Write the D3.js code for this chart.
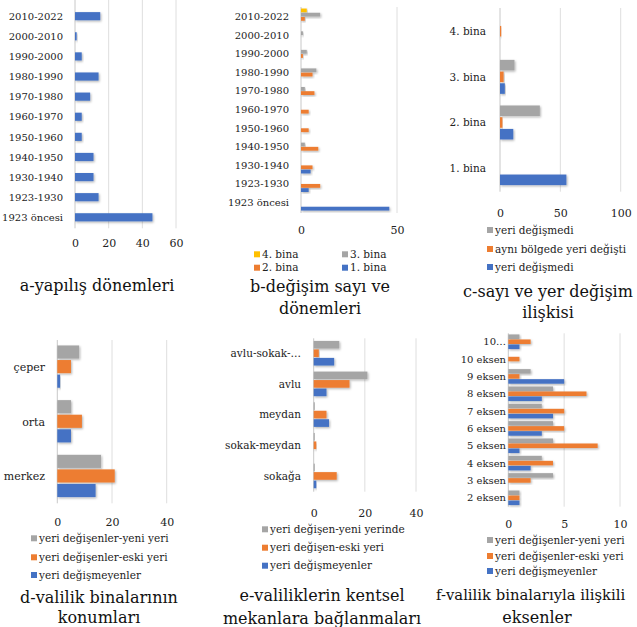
<!DOCTYPE html>
<html>
<head>
<meta charset="utf-8">
<script src="https://cdn.jsdelivr.net/npm/d3@7"></script>
<style>
  body { margin: 0; background: #fff; }
  svg { display: block; }
  svg text { font-family: 'DejaVu Serif', serif !important; }
</style>
</head>
<body>
<script>
// ---- data ----
const aCats = ['2010-2022', '2000-2010', '1990-2000', '1980-1990', '1970-1980', '1960-1970',
               '1950-1960', '1940-1950', '1930-1940', '1923-1930', '1923 öncesi']
const aValues = [15, 1, 4, 14, 9, 4, 4, 11, 11, 14, 46]

// b: same periods, one series per building
const bBina1 = [0, 0, 0, 0, 0, 0, 0, 0, 5, 4, 46]
const bBina2 = [2, 0, 1, 6, 7, 4, 4, 9, 6, 10, 0]
const bBina3 = [10, 1, 3, 8, 2, 0, 0, 2, 0, 0, 0]
const bBina4 = [3, 0, 0, 0, 0, 0, 0, 0, 0, 0, 0]
const bNames = ['4. bina', '3. bina', '2. bina', '1. bina']

const cCats = ['4. bina', '3. bina', '2. bina', '1. bina']
const cGray = [0, 12, 33, 0]
const cOrange = [1, 3, 2, 0]
const cBlue = [0, 4, 11, 55]
const cNames = ['yeri değişmedi', 'aynı bölgede yeri değişti', 'yeri değişmedi']

const dCats = ['çeper', 'orta', 'merkez']
const dGray = [8, 5, 16]
const dOrange = [5, 9, 21]
const dBlue = [1, 5, 14]
const dNames = ['yeri değişenler-yeni yeri', 'yeri değişenler-eski yeri', 'yeri değişmeyenler']

const eCats = ['avlu-sokak-…', 'avlu', 'meydan', 'sokak-meydan', 'sokağa']
const eGray = [10, 21, 0.4, 0.4, 0.4]
const eOrange = [2, 14, 5, 1, 9]
const eBlue = [8, 5, 6, 0, 1]
const eNames = ['yeri değişen-yeni yerinde', 'yeri değişen-eski yeri', 'yeri değişmeyenler']

const fCats = ['10…', '10 eksen', '9 eksen', '8 eksen', '7 eksen', '6 eksen',
               '5 eksen', '4 eksen', '3 eksen', '2 eksen']
const fGray = [1, 0, 2, 4, 3, 4, 4, 3, 4, 1]
const fOrange = [2, 1, 1, 7, 5, 5, 8, 4, 2, 1]
const fBlue = [1, 0, 5, 3, 4, 3, 1, 2, 0, 1]
const fNames = ['yeri değişenler-yeni yeri', 'yeri değişenler-eski yeri', 'yeri değişmeyenler']

// ---- drawing ----
const BLUE = '#4472c4', ORANGE = '#ed7d31', GRAY = '#a5a5a5', YELLOW = '#ffc000'

const svg = d3.select('body').append('svg')
  .attr('width', 637).attr('height', 627)

svg.append('defs').append('filter').attr('id', 'sh')
  .attr('x', '-10%').attr('y', '-30%').attr('width', '130%').attr('height', '180%')
  .append('feDropShadow')
  .attr('dx', 1).attr('dy', 1.2).attr('stdDeviation', 0.9)
  .attr('flood-color', '#000').attr('flood-opacity', 0.3)

function panel(p) {
  const g = svg.append('g')
  const x = d3.scaleLinear().domain([0, p.max]).range([p.x0, p.x1])
  const y = d3.scaleBand().domain(p.cats).range([p.y0, p.y1])
    .paddingInner(p.pad).paddingOuter(p.pad / 2)
  const sub = d3.scaleBand().domain(d3.range(p.series.length)).range([0, y.bandwidth()])

  // gridlines
  g.selectAll('line.grid').data(p.ticks).join('line')
    .attr('x1', x).attr('x2', x)
    .attr('y1', p.gTop).attr('y2', p.gBot)
    .attr('stroke', d => d === 0 ? '#c8c8c8' : '#dedede')
    .attr('stroke-width', 1)

  // bars
  p.series.forEach((s, i) => {
    g.append('g').selectAll('rect').data(s.values).join('rect')
      .attr('x', x(0))
      .attr('y', (d, j) => y(p.cats[j]) + sub(i))
      .attr('width', d => x(d) - x(0))
      .attr('height', sub.bandwidth() * 0.9)
      .attr('fill', s.color)
      .attr('filter', 'url(#sh)')
  })

  // category labels
  g.append('g').attr('transform', `translate(${p.labelX},0)`)
    .call(d3.axisLeft(y).tickSize(0).tickPadding(0))
    .call(a => a.select('.domain').remove())
    .selectAll('text').attr('font-size', p.fs).attr('fill', '#222')

  // value axis labels
  g.append('g').attr('transform', `translate(0,${p.tickY})`)
    .call(d3.axisBottom(x).tickValues(p.ticks).tickSize(0).tickPadding(0))
    .call(a => a.select('.domain').remove())
    .selectAll('text').attr('font-size', 11).attr('dy', '0.35em').attr('fill', '#222')

  // legend
  if (p.legend) {
    p.legend.forEach(l => {
      g.append('rect').attr('x', l.x).attr('y', l.y - 3).attr('width', 6).attr('height', 6)
        .attr('fill', l.color)
      g.append('text').attr('x', l.x + 8).attr('y', l.y).attr('dy', '0.35em')
        .attr('font-size', 10.5).attr('fill', '#222').text(l.text)
    })
  }

  // title
  p.title.forEach((t, i) => {
    const start = p.titleStart && p.titleStart[i] != null
    g.append('text')
      .attr('x', start ? p.titleStart[i] : p.titleX)
      .attr('y', p.titleY[i]).attr('dy', '0.35em')
      .attr('text-anchor', start ? 'start' : 'middle')
      .attr('font-size', p.titleSize ? p.titleSize[i] : 16)
      .attr('fill', '#111').text(t)
  })
}

panel({
  cats: aCats, series: [{ values: aValues, color: BLUE }],
  max: 60, ticks: [0, 20, 40, 60], x0: 75, x1: 176,
  y0: 6.6, y1: 227.8, pad: 0.55, gTop: 0, gBot: 228.3,
  labelX: 63, fs: 10, tickY: 243,
  title: ['a-yapılış dönemleri'], titleX: 97, titleY: [285]
})

panel({
  cats: aCats,
  series: [{ values: bBina4, color: YELLOW }, { values: bBina3, color: GRAY },
           { values: bBina2, color: ORANGE }, { values: bBina1, color: BLUE }],
  max: 50, ticks: [0, 50], x0: 301, x1: 397,
  y0: 7.7, y1: 211.8, pad: 0.09, gTop: 7, gBot: 213,
  labelX: 289, fs: 10, tickY: 230,
  legend: [
    { x: 254, y: 254.3, color: YELLOW, text: bNames[0] },
    { x: 342, y: 254.3, color: GRAY, text: bNames[1] },
    { x: 254, y: 267.7, color: ORANGE, text: bNames[2] },
    { x: 342, y: 267.7, color: BLUE, text: bNames[3] }
  ],
  title: ['b-değişim sayı ve', 'dönemleri'], titleX: 320, titleY: [286, 308]
})

panel({
  cats: cCats,
  series: [{ values: cGray, color: GRAY }, { values: cOrange, color: ORANGE }, { values: cBlue, color: BLUE }],
  max: 100, ticks: [0, 50, 100], x0: 500, x1: 620.7,
  y0: 9, y1: 191.5, pad: 0.23, gTop: 8, gBot: 191.7,
  labelX: 486, fs: 10.5, tickY: 213,
  legend: [
    { x: 487, y: 230, color: GRAY, text: cNames[0] },
    { x: 487, y: 249, color: ORANGE, text: cNames[1] },
    { x: 487, y: 267, color: BLUE, text: cNames[2] }
  ],
  title: ['c-sayı ve yer değişim', 'ilişkisi'], titleX: 548, titleY: [291, 312]
})

panel({
  cats: dCats,
  series: [{ values: dGray, color: GRAY }, { values: dOrange, color: ORANGE }, { values: dBlue, color: BLUE }],
  max: 40, ticks: [0, 20, 40], x0: 57.3, x1: 166.7,
  y0: 340, y1: 504, pad: 0.2, gTop: 340, gBot: 503.3,
  labelX: 45, fs: 11, tickY: 521.7,
  legend: [
    { x: 31, y: 538.3, color: GRAY, text: dNames[0] },
    { x: 31, y: 557.3, color: ORANGE, text: dNames[1] },
    { x: 31, y: 575, color: BLUE, text: dNames[2] }
  ],
  title: ['d-valilik binalarının', 'konumları'], titleX: 99, titleY: [597, 617]
})

panel({
  cats: eCats,
  series: [{ values: eGray, color: GRAY }, { values: eOrange, color: ORANGE }, { values: eBlue, color: BLUE }],
  max: 40, ticks: [0, 20, 40], x0: 313.7, x1: 416,
  y0: 338.3, y1: 491.7, pad: 0.17, gTop: 338.3, gBot: 491.7,
  labelX: 301, fs: 10.5, tickY: 512.7,
  legend: [
    { x: 262, y: 529.3, color: GRAY, text: eNames[0] },
    { x: 262, y: 547.7, color: ORANGE, text: eNames[1] },
    { x: 262, y: 565.7, color: BLUE, text: eNames[2] }
  ],
  title: ['e-valiliklerin kentsel', 'mekanlara bağlanmaları'], titleX: 322, titleY: [595, 618]
})

panel({
  cats: fCats,
  series: [{ values: fGray, color: GRAY }, { values: fOrange, color: ORANGE }, { values: fBlue, color: BLUE }],
  max: 10, ticks: [0, 5, 10], x0: 508.3, x1: 620,
  y0: 333.3, y1: 506.7, pad: 0.13, gTop: 333.3, gBot: 506.7,
  labelX: 506, fs: 10, tickY: 524,
  legend: [
    { x: 487, y: 540, color: GRAY, text: fNames[0] },
    { x: 487, y: 556, color: ORANGE, text: fNames[1] },
    { x: 487, y: 571, color: BLUE, text: fNames[2] }
  ],
  title: ['f-valilik binalarıyla ilişkili', 'eksenler'], titleX: 537, titleY: [595, 617],
  titleStart: [436, null], titleSize: [14.8, 16]
})
</script>
</body>
</html>
